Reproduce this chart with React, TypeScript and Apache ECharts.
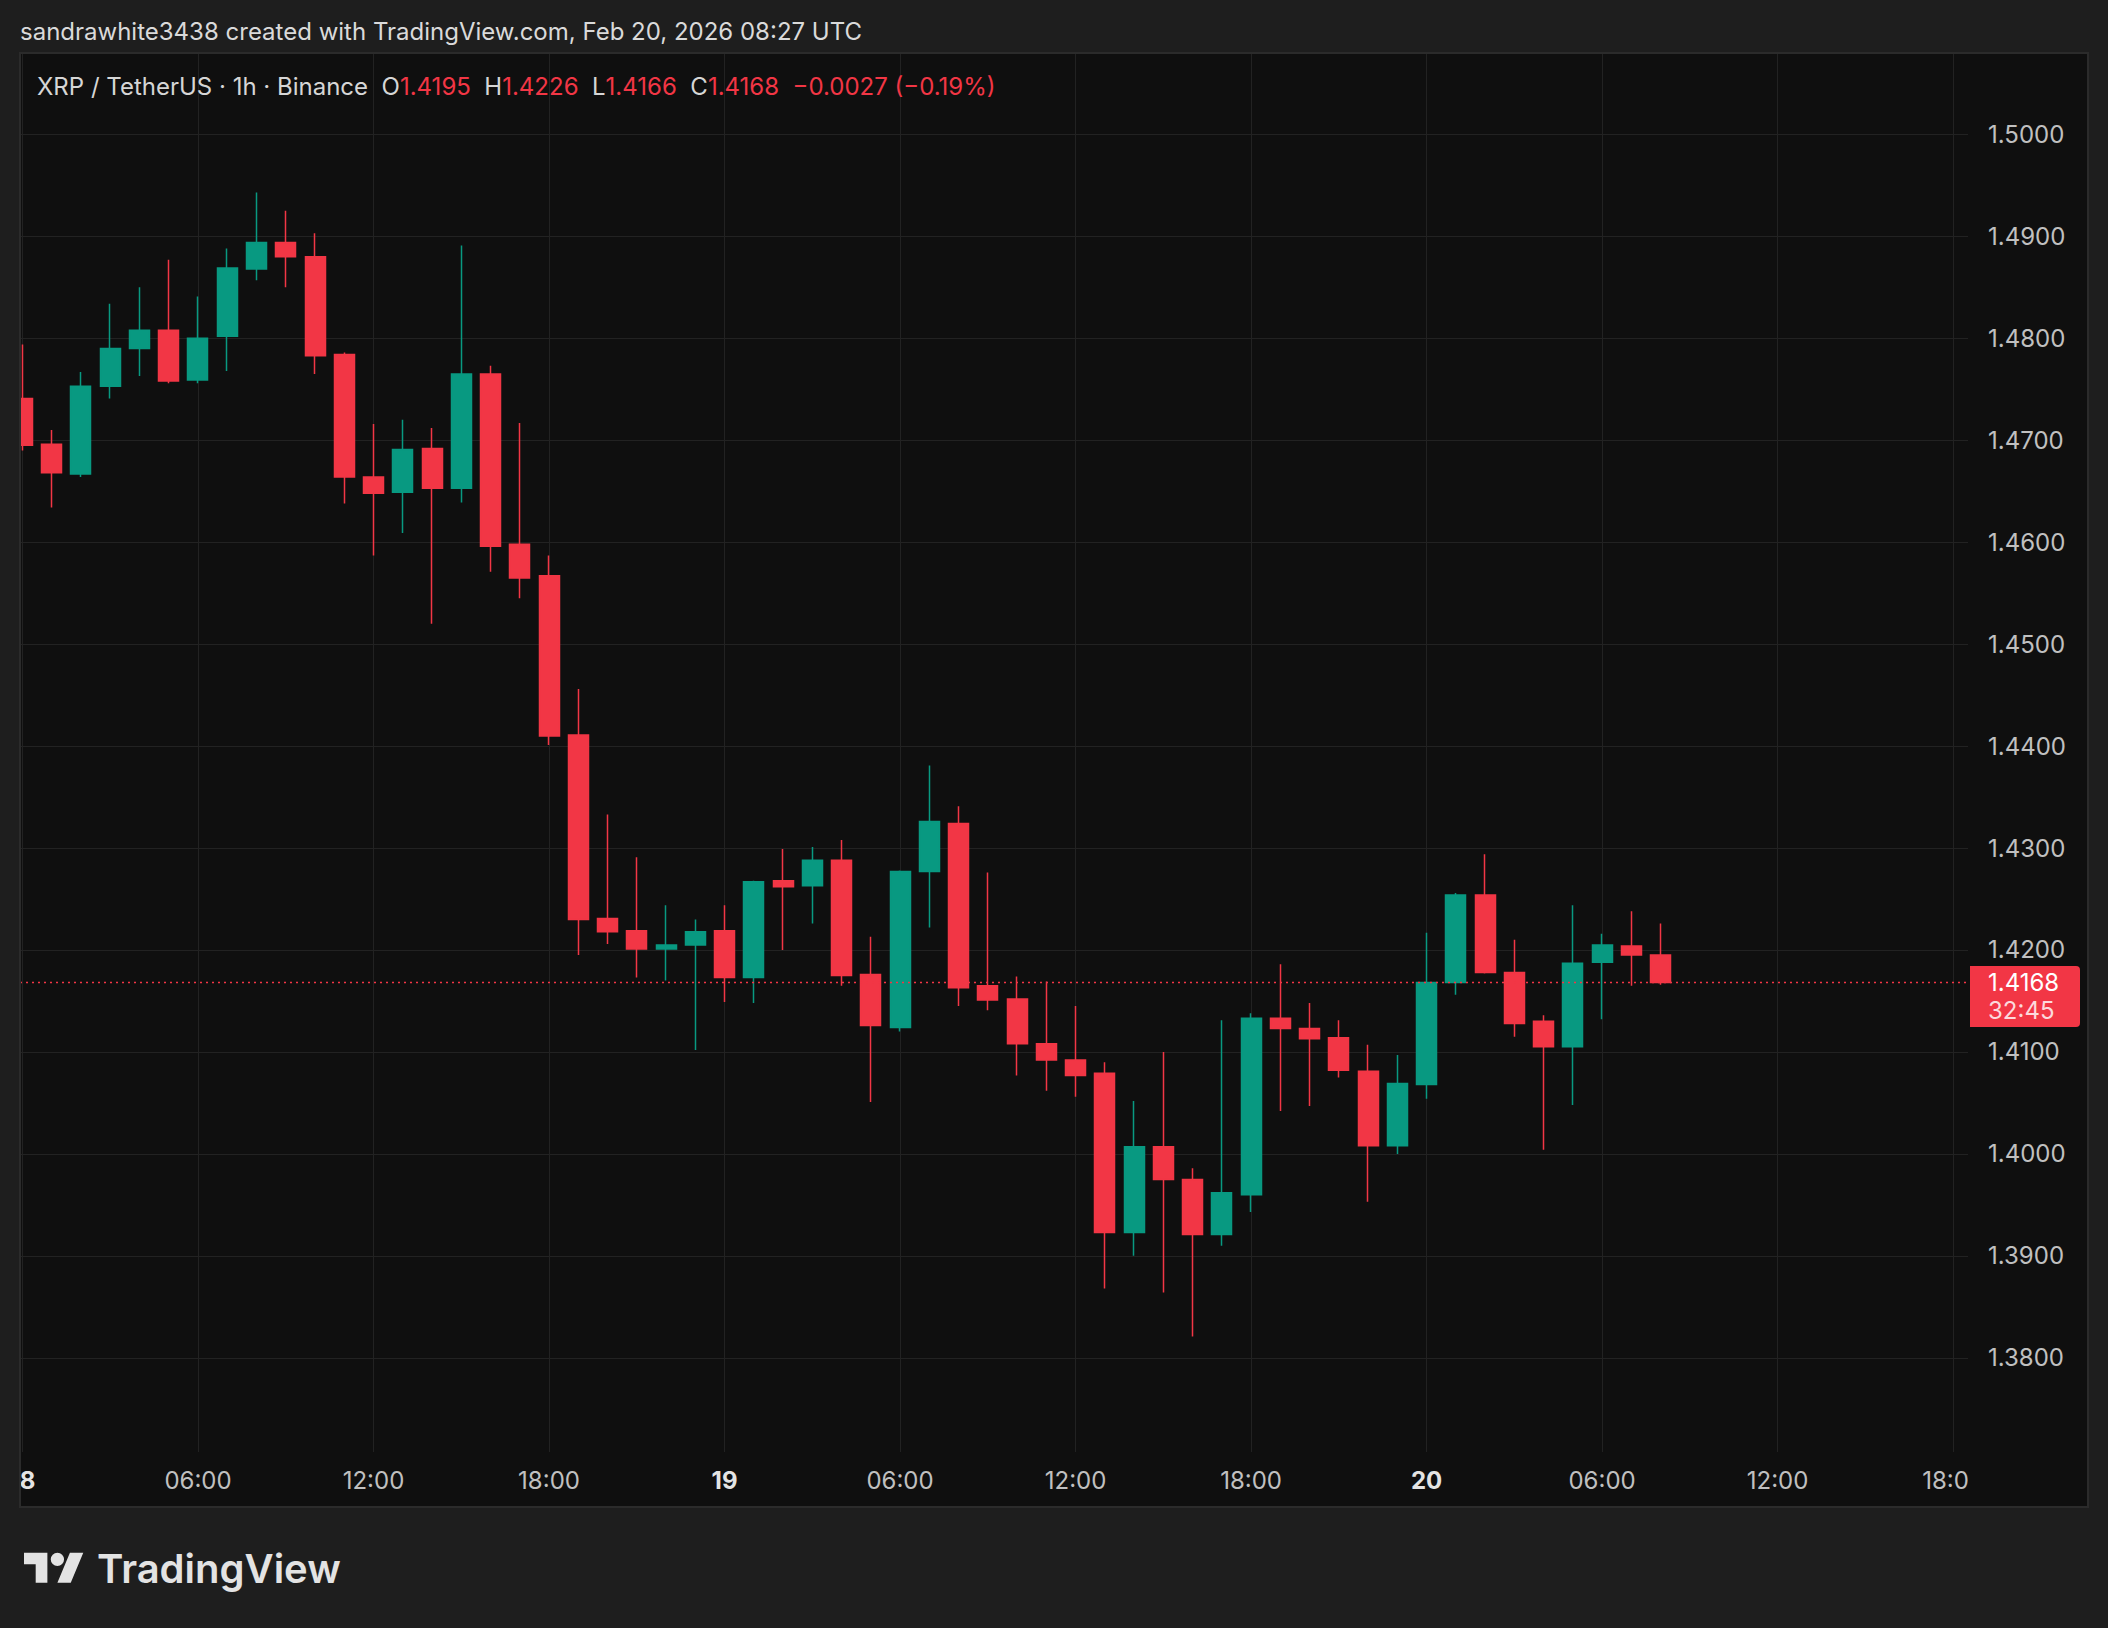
import React, { useEffect, useRef } from "react";
import * as echarts from "echarts";

// ---- Data (XRP / TetherUS, 1h, Binance; Feb 18 00:00 -> Feb 20 08:00 UTC) ----
const hourIndex = [
  0, 1, 2, 3, 4, 5, 6, 7, 8, 9, 10, 11, 12, 13, 14, 15, 16, 17, 18, 19, 20, 21, 22, 23,
  24, 25, 26, 27, 28, 29, 30, 31, 32, 33, 34, 35, 36, 37, 38, 39, 40, 41, 42, 43, 44, 45, 46, 47,
  48, 49, 50, 51, 52, 53, 54, 55, 56,
];
const opens = [
  1.4741, 1.4696, 1.4667, 1.4753, 1.479, 1.4808, 1.4759, 1.4802, 1.4868, 1.4894, 1.488, 1.4784,
  1.4664, 1.4649, 1.4692, 1.4653, 1.4765, 1.4598, 1.4567, 1.4411, 1.4231, 1.4219, 1.4201, 1.4205,
  1.4219, 1.4173, 1.4268, 1.4263, 1.4288, 1.4176, 1.4124, 1.4277, 1.4324, 1.4165, 1.4152, 1.4108,
  1.4092, 1.4079, 1.3923, 1.4007, 1.3975, 1.3921, 1.396, 1.4133, 1.4123, 1.4114, 1.4081, 1.4008,
  1.4068, 1.4168, 1.4254, 1.4178, 1.413, 1.4105, 1.4188, 1.4204, 1.4195,
];
const closes = [
  1.4695, 1.4668, 1.4753, 1.479, 1.4808, 1.4758, 1.48, 1.4869, 1.4894, 1.488, 1.4783, 1.4664,
  1.4648, 1.4691, 1.4653, 1.4765, 1.4596, 1.4565, 1.441, 1.423, 1.4218, 1.4201, 1.4205, 1.4218,
  1.4173, 1.4267, 1.4262, 1.4288, 1.4175, 1.4126, 1.4277, 1.4326, 1.4163, 1.4151, 1.4108, 1.4092,
  1.4077, 1.3923, 1.4007, 1.3975, 1.3921, 1.3962, 1.4133, 1.4123, 1.4113, 1.4082, 1.4008, 1.4069,
  1.4168, 1.4254, 1.4178, 1.4128, 1.4105, 1.4187, 1.4205, 1.4195, 1.4168,
];
const lows = [
  1.469, 1.4634, 1.4664, 1.4741, 1.4763, 1.4756, 1.4756, 1.4768, 1.4857, 1.485, 1.4765, 1.4638,
  1.4587, 1.4609, 1.452, 1.4639, 1.4571, 1.4545, 1.4401, 1.4195, 1.4206, 1.4173, 1.417, 1.4102,
  1.4149, 1.4148, 1.42, 1.4226, 1.4165, 1.4051, 1.412, 1.4222, 1.4145, 1.4141, 1.4077, 1.4062,
  1.4056, 1.3868, 1.39, 1.3864, 1.3821, 1.391, 1.3943, 1.4042, 1.4047, 1.4075, 1.3953, 1.4,
  1.4054, 1.4156, 1.4177, 1.4115, 1.4004, 1.4048, 1.4132, 1.4165, 1.4166,
];
const highs = [
  1.4794, 1.471, 1.4767, 1.4834, 1.485, 1.4877, 1.4841, 1.4888, 1.4943, 1.4925, 1.4903, 1.4786,
  1.4716, 1.472, 1.4712, 1.4891, 1.4773, 1.4717, 1.4587, 1.4456, 1.4333, 1.4291, 1.4244, 1.423,
  1.4244, 1.4268, 1.4299, 1.4301, 1.4308, 1.4213, 1.4278, 1.4381, 1.4341, 1.4276, 1.4174, 1.4169,
  1.4145, 1.409, 1.4052, 1.41, 1.3986, 1.4131, 1.4138, 1.4186, 1.4148, 1.4131, 1.4107, 1.4097,
  1.4217, 1.4256, 1.4294, 1.421, 1.4136, 1.4244, 1.4216, 1.4238, 1.4226,
];

const timeTicks = [0, 6, 12, 18, 24, 30, 36, 42, 48, 54, 60, 66];
const timeTickLabels = ["18", "06:00", "12:00", "18:00", "19", "06:00", "12:00", "18:00", "20", "06:00", "12:00", "18:00"];
const dayTicks = [0, 24, 48];
const priceTicks = [1.38, 1.39, 1.4, 1.41, 1.42, 1.43, 1.44, 1.45, 1.46, 1.47, 1.48, 1.49, 1.5];

const headerLine = "sandrawhite3438 created with TradingView.com, Feb 20, 2026 08:27 UTC";
const symbolLine = "XRP / TetherUS · 1h · Binance";
const countdown = "32:45";

// ---- Style constants ----
const FONT = 'Inter, "Noto Sans", Roboto, sans-serif';
const UP = "#089981";
const DOWN = "#f23645";
const OUTER_BG = "#1e1e1e";
const PANEL_BG = "#0f0f0f";
const GRID = "#222222";
const AXIS_TEXT = "#c0c0c0";
const AXIS_FS = 24;

const TV_LOGO_D =
  "M14 22H7V11H0V4h14v18z M24 8a4 4 0 1 1-8 0a4 4 0 1 1 8 0z M28 22h-8l7.5-18h8L28 22z";
echarts.graphic.registerShape("tvlogo", echarts.graphic.extendPath(TV_LOGO_D, {}) as any);

function fmtSigned(v: number, digits: number) {
  const s = Math.abs(v).toFixed(digits);
  return (v < 0 ? "\u2212" : "+") + s;
}

export default function App() {
  const ref = useRef<HTMLDivElement>(null);

  useEffect(() => {
    document.body.style.margin = "0";
    const el = ref.current!;
    const chart = echarts.init(el, null, { renderer: "svg" });

    const n = closes.length;
    const last = n - 1;
    const lastClose = closes[last];
    const change = closes[last] - closes[last - 1];
    const pct = (change / closes[last - 1]) * 100;
    const red = (s: string) => `{r|${s}}`;
    const gap = "  ";
    const ohlcText =
      `${symbolLine}${gap}O${red(opens[last].toFixed(4))}${gap}H${red(highs[last].toFixed(4))}${gap}` +
      `L${red(lows[last].toFixed(4))}${gap}C${red(closes[last].toFixed(4))}${gap}` +
      red(`${fmtSigned(change, 4)} (${fmtSigned(pct, 2)}%)`);

    const candleData = hourIndex.map((h, i) => [h, opens[i], closes[i], lows[i], highs[i]]);

    const option: any = {
      animation: false,
      backgroundColor: OUTER_BG,
      textStyle: { fontFamily: FONT },
      grid: { left: 20, right: 140, top: 54, bottom: 176, containLabel: false },
      xAxis: {
        type: "value",
        min: -0.085,
        max: 66.51,
        axisLine: { show: false },
        axisTick: { show: false, customValues: timeTicks },
        splitLine: { show: true, lineStyle: { color: GRID, width: 1 } },
        axisLabel: {
          customValues: timeTicks,
          margin: 16,
          color: AXIS_TEXT,
          fontSize: AXIS_FS,
          fontFamily: FONT,
          formatter: (v: number) => {
            const idx = timeTicks.indexOf(Math.round(v));
            const label = idx >= 0 ? timeTickLabels[idx] : "";
            return dayTicks.indexOf(Math.round(v)) >= 0 ? `{d|${label}}` : label;
          },
          rich: {
            d: { fontWeight: "bold", color: "#e4e4e4", fontSize: AXIS_FS, fontFamily: FONT },
          },
        },
      },
      yAxis: {
        type: "value",
        position: "right",
        min: 1.37076,
        max: 1.507886,
        scale: true,
        axisLine: { show: false },
        axisTick: { show: false, customValues: priceTicks },
        splitLine: { show: true, lineStyle: { color: GRID, width: 1 } },
        axisLabel: {
          customValues: priceTicks,
          margin: 20,
          color: AXIS_TEXT,
          fontSize: AXIS_FS,
          fontFamily: FONT,
          formatter: (v: number) => v.toFixed(4),
        },
      },
      series: [
        {
          type: "candlestick",
          data: candleData,
          encode: { x: 0, y: [1, 2, 3, 4] },
          barWidth: 20.5,
          clip: true,
          itemStyle: {
            color: UP,
            color0: DOWN,
            borderColor: UP,
            borderColor0: DOWN,
            borderWidth: 1.5,
          },
          markLine: {
            silent: true,
            precision: 4,
            symbol: ["none", "none"],
            animation: false,
            lineStyle: { color: DOWN, type: [2, 4], width: 1.3 },
            label: {
              show: true,
              position: "end",
              distance: 2,
              offset: [0, 14],
              backgroundColor: DOWN,
              borderRadius: [0, 4, 4, 0],
              padding: [2, 10, 3, 18],
              formatter: () => `{p|${lastClose.toFixed(4)}}\n{t|${countdown}}`,
              rich: {
                p: { color: "#ffffff", fontSize: AXIS_FS, lineHeight: 28, fontFamily: FONT, width: 82 },
                t: { color: "rgba(255,255,255,0.82)", fontSize: AXIS_FS, lineHeight: 28, fontFamily: FONT, width: 82 },
              },
            },
            data: [{ yAxis: lastClose }],
          },
        },
      ],
      graphic: [
        {
          type: "rect",
          z: -10,
          silent: true,
          shape: { x: 20, y: 53, width: 2068, height: 1454 },
          style: { fill: PANEL_BG },
        },
        {
          type: "rect",
          z: 50,
          silent: true,
          shape: { x: 0, y: 40, width: 20, height: 1480 },
          style: { fill: OUTER_BG },
        },
        {
          type: "rect",
          z: 50,
          silent: true,
          shape: { x: 1968, y: 1456, width: 119, height: 50 },
          style: { fill: PANEL_BG },
        },
        {
          type: "rect",
          z: 51,
          silent: true,
          shape: { x: 20, y: 53, width: 2068, height: 1454 },
          style: { fill: "none", stroke: "#2b2b2b", lineWidth: 2 },
        },
        {
          type: "text",
          z: 52,
          silent: true,
          x: 20,
          y: 31,
          style: {
            text: headerLine,
            fill: "#dadada",
            fontSize: 24,
            fontFamily: FONT,
            verticalAlign: "middle",
          },
        },
        {
          type: "text",
          z: 52,
          silent: true,
          x: 37,
          y: 86,
          style: {
            text: ohlcText,
            fill: "#d6d6d6",
            fontSize: 24,
            fontFamily: FONT,
            verticalAlign: "middle",
            rich: {
              r: { fill: DOWN, fontSize: 24, fontFamily: FONT },
            },
          },
        },
        {
          type: "tvlogo",
          z: 52,
          silent: true,
          x: 24,
          y: 1546,
          scaleX: 1.67,
          scaleY: 1.67,
          style: { fill: "#e3e3e3" },
        },
        {
          type: "text",
          z: 52,
          silent: true,
          x: 97,
          y: 1568,
          style: {
            text: "TradingView",
            fill: "#e3e3e3",
            fontSize: 40,
            fontWeight: 600,
            fontFamily: FONT,
            verticalAlign: "middle",
          },
        },
      ],
    };

    chart.setOption(option);
    return () => chart.dispose();
  }, []);

  return <div ref={ref} style={{ width: 2108, height: 1628 }} />;
}
